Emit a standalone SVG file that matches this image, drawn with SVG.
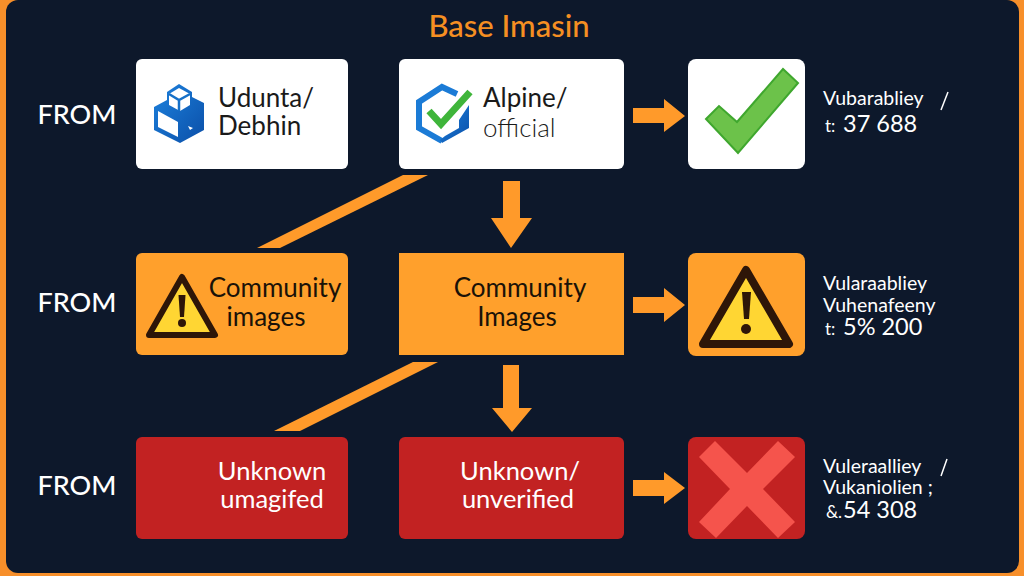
<svg xmlns="http://www.w3.org/2000/svg" width="1024" height="576" viewBox="0 0 1024 576">
<defs>
<linearGradient id="blue" x1="0" y1="0" x2="1" y2="1"><stop offset="0" stop-color="#1d82de"/><stop offset="1" stop-color="#0b4fa8"/></linearGradient>
</defs>
<style>
.t{font-family:"Lato","Liberation Sans",sans-serif}
.lbl{font-size:26px;fill:#1a1208;text-anchor:middle}
.w{font-size:26px;fill:#1a1a1a}
.from{font-size:27px;fill:#fff;text-anchor:middle;font-weight:500}
.red{font-size:25.500px;fill:#fff;text-anchor:middle}
.v{font-size:19.500px;fill:#fff}
.n{font-size:23.500px}
.s{font-size:17px}
.o{fill:#ffa02c}
.a{fill:#ff9a2a}
.dk{fill:#2e1608}
.tri{fill:#ffd633;stroke:#2e1608;stroke-linejoin:round}
</style>
<rect width="1024" height="576" fill="#f78f2a"/>
<rect x="6" y="0" width="1013" height="573" rx="12" fill="#0d182b"/>
<text class="t" x="509" y="37" font-size="31" fill="#f58f22" text-anchor="middle" font-weight="500">Base Imasin</text>
<g id="connectors">
<polygon class="a" points="403,175 428,175 280,248 257,248"/>
<polygon class="a" points="413,362 438,362 300,431 274,431"/>
<polygon class="a" points="503,181 520,181 520,218 532,218 511,248 491,218 503,218"/>
<polygon class="a" points="503,365 519,365 519,408 532,408 512,432 492,408 503,408"/>
<polygon class="a" points="633,108 664,108 664,99 685,116 664,132 664,123 633,123"/>
<polygon class="a" points="633,297 664,297 664,288 685,305 664,322 664,313 633,313"/>
<polygon class="a" points="633,480 664,480 664,472 685,488 664,504 664,496 633,496"/>
</g>
<g id="from-1"><text class="t from" x="77" y="124">FROM</text></g>
<g id="from-2"><text class="t from" x="77" y="312">FROM</text></g>
<g id="from-3"><text class="t from" x="77" y="495">FROM</text></g>
<g id="node-ubuntu">
<rect x="136" y="59" width="212" height="110" rx="6" fill="#fff"/>
<polygon points="154,107 167,100 167,92 179,84 192,92 192,97 204,103 204,130 180,143 154,130" fill="url(#blue)"/>
<polygon points="158,111 178,122 178,137 158,127" fill="#fff"/>
<polygon points="169,94 179,88 190,94 190,105 180,111 169,105" fill="#fff"/>
<path d="M169 94 L179 100 L190 94 M179 100 V111" fill="none" stroke="#1570c8" stroke-width="2.500"/>
<polygon points="188,126 193,128 190,130" fill="#fff"/>
<text class="t w" x="218" y="107">Udunta/</text>
<text class="t w" x="218" y="135">Debhin</text>
</g>
<g id="node-alpine">
<rect x="399" y="59" width="225" height="110" rx="6" fill="#fff"/>
<polyline points="457,94 442,87 419,102 419,128 442,141" fill="none" stroke="#1b7bd6" stroke-width="6"/>
<polygon points="445,136 459,128 459,120 469,105 469,128 442,143 440,140" fill="url(#blue)"/>
<polyline points="429,111 441,124 470,92" fill="none" stroke="#3fb53a" stroke-width="7"/>
<text class="t w" x="483" y="107">Alpine/</text>
<text class="t w" x="483" y="137" font-weight="300">official</text>
</g>
<g id="result-ok">
<rect x="688" y="59" width="117" height="110" rx="8" fill="#fff"/>
<polygon points="706,119 719,106 737,122 783,69 798,83 738,153" fill="#6cc24a" stroke="#3fa72e" stroke-width="2"/>
</g>
<g id="vuln-1">
<text class="t v" x="823" y="105">Vubarabliey</text>
<path d="M948 92 L941 110" stroke="#fff" stroke-width="1.500"/>
<text class="t v" x="825" y="132"><tspan class="s">t:</tspan><tspan class="n" x="843">37 688</tspan></text>
</g>
<g id="node-community-warn">
<rect x="136" y="253" width="212" height="102" rx="6" class="o"/>
<path d="M182 277 L215 335 H149 Z" class="tri" stroke-width="6"/>
<path d="M178.500 295 H185.500 L184 317 H180 Z" class="dk"/>
<circle cx="182" cy="323" r="4" class="dk"/>
<text class="t lbl" x="275" y="297">Community</text>
<text class="t lbl" x="266" y="326">images</text>
</g>
<g id="node-community">
<rect x="399" y="253" width="225" height="102" class="o"/>
<text class="t lbl" x="520" y="297">Community</text>
<text class="t lbl" x="517" y="326">Images</text>
</g>
<g id="result-warn">
<rect x="688" y="253" width="117" height="103" rx="8" class="o"/>
<path d="M746 270 L789 344 H703 Z" class="tri" stroke-width="8"/>
<path d="M742 292 H751 L749 319 H744 Z" class="dk"/>
<circle cx="746" cy="329" r="5" class="dk"/>
</g>
<g id="vuln-2">
<text class="t v" x="823" y="290">Vularaabliey</text>
<text class="t v" x="823" y="312">Vuhenafeeny</text>
<text class="t v" x="825" y="335"><tspan class="s">t:</tspan><tspan class="n" x="843">5% 200</tspan></text>
</g>
<g id="node-unknown-1">
<rect x="136" y="437" width="212" height="102" rx="6" fill="#c22222"/>
<text class="t red" x="272" y="480">Unknown</text>
<text class="t red" x="272" y="508">umagifed</text>
</g>
<g id="node-unknown-2">
<rect x="399" y="437" width="225" height="102" rx="6" fill="#c22222"/>
<text class="t red" x="520" y="480">Unknown/</text>
<text class="t red" x="518" y="508">unverified</text>
</g>
<g id="result-bad">
<rect x="688" y="437" width="117" height="102" rx="8" fill="#c22222"/>
<polygon points="715,441 747,473 778,441 795,457 763,489 795,522 778,538 747,506 716,538 699,522 730,489 699,457" fill="#f5544c"/>
</g>
<g id="vuln-3">
<text class="t v" x="823" y="473">Vuleraalliey</text>
<path d="M947 459 L941 476" stroke="#fff" stroke-width="1.500"/>
<text class="t v" x="823" y="494">Vukaniolien ;</text>
<text class="t v" x="826" y="518"><tspan class="s">&amp;.</tspan><tspan class="n" x="843">54 308</tspan></text>
</g>
</svg>
